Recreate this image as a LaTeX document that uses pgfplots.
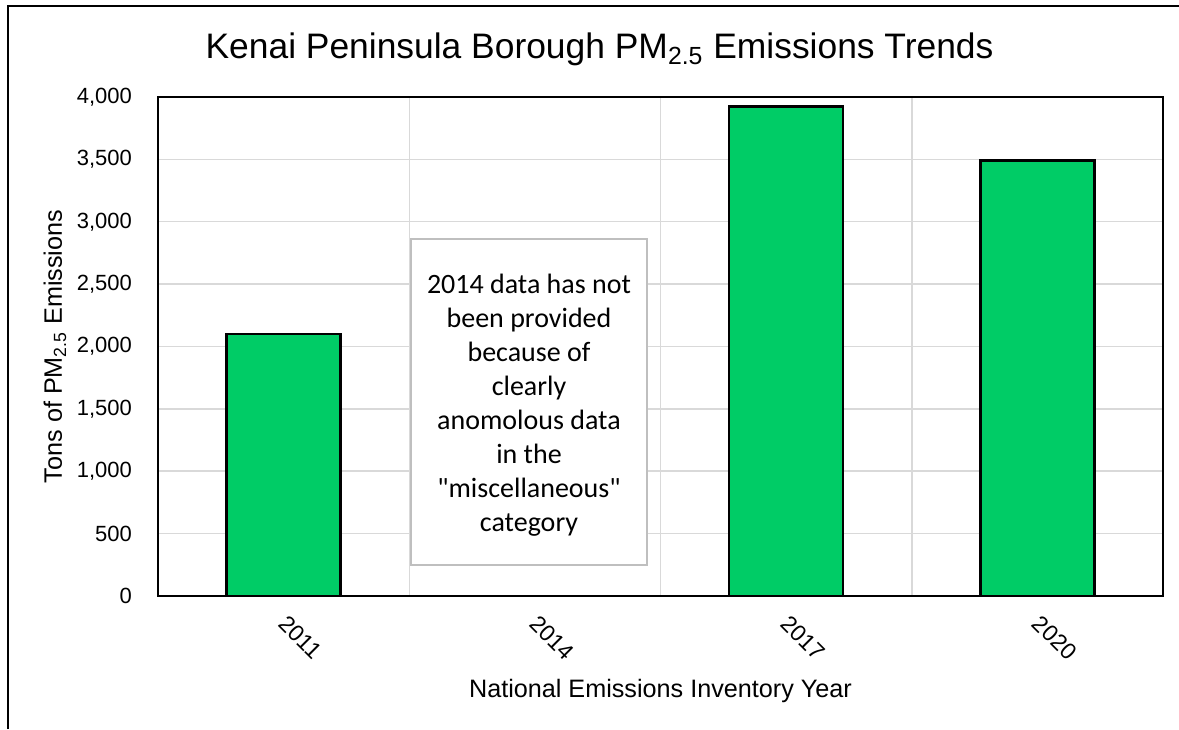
\documentclass[border=0pt]{standalone}
\usepackage{pgfplots}
\pgfplotsset{compat=1.18}
\usepackage{fontspec}
\setmainfont{Liberation Sans}
\newfontfamily\notefont{Carlito}
\definecolor{barGreen}{RGB}{0,204,102}
\definecolor{gridGray}{RGB}{217,217,217}
\definecolor{boxGray}{RGB}{191,191,191}

\begin{document}
\begin{tikzpicture}[x=1pt,y=1pt]
\path[use as bounding box] (0,0) rectangle (589.5,364.5);
% outer frame (left and top edges)
\draw[line width=1pt] (4,0) -- (4,361.5) -- (589.5,361.5);
\begin{axis}[
  at={(79pt,66.5pt)}, anchor=south west,
  scale only axis, width=502.5pt, height=249.5pt,
  xmin=-0.5, xmax=3.5, ymin=0, ymax=4000,
  xtick={0,1,2,3}, xticklabels={2011,2014,2017,2020},
  minor xtick={0.5,1.5,2.5},
  ytick={0,500,...,4000},
  xminorgrids=true, ymajorgrids=true,
  minor x grid style={gridGray, line width=0.75pt},
  major y grid style={gridGray, line width=0.75pt},
  major tick style={draw=none}, minor tick style={draw=none},
  axis line style={black, line width=0.8pt},
  /pgf/number format/.cd, 1000 sep={,}, assume math mode=true,
  /pgfplots/.cd,
  tick label style={font=\fontsize{11}{13}\selectfont},
  yticklabel style={xshift=-9.5pt},
  xticklabel style={font=\fontsize{11.5}{13}\selectfont, rotate=-45, anchor=north west, xshift=4.7pt, yshift=-1.2pt},
  title={Kenai Peninsula Borough PM\textsubscript{2.5} Emissions Trends},
  title style={font=\fontsize{17.7}{21}\selectfont, at={(axis description cs:0.5,1)}, anchor=base, yshift=13pt, xshift=-30.5pt},
  xlabel={National Emissions Inventory Year},
  xlabel style={font=\fontsize{12.6}{15}\selectfont, at={(axis description cs:0.5,0)}, anchor=base, yshift=-50.5pt},
  ylabel={Tons of PM\textsubscript{2.5} Emissions},
  ylabel style={font=\fontsize{12.6}{15}\selectfont, at={(axis description cs:0,0.5)}, anchor=base, yshift=48pt},
]
\addplot[ybar, bar width=57pt, fill=barGreen, draw=black, line width=1.2pt]
  coordinates {(0,2100) (2,3925) (3,3490)};
\end{axis}
% explanatory note for the missing year
\node[draw=boxGray, line width=0.8pt, fill=white, minimum width=118pt, minimum height=163pt, inner sep=0pt] at (264.5,163.5) {};
\node[align=center, font=\notefont\fontsize{14}{17}\selectfont] at (264.5,162) {2014 data has not\\been provided\\because of\\clearly\\anomolous data\\in the\\"miscellaneous"\\category};
\end{tikzpicture}
\end{document}
